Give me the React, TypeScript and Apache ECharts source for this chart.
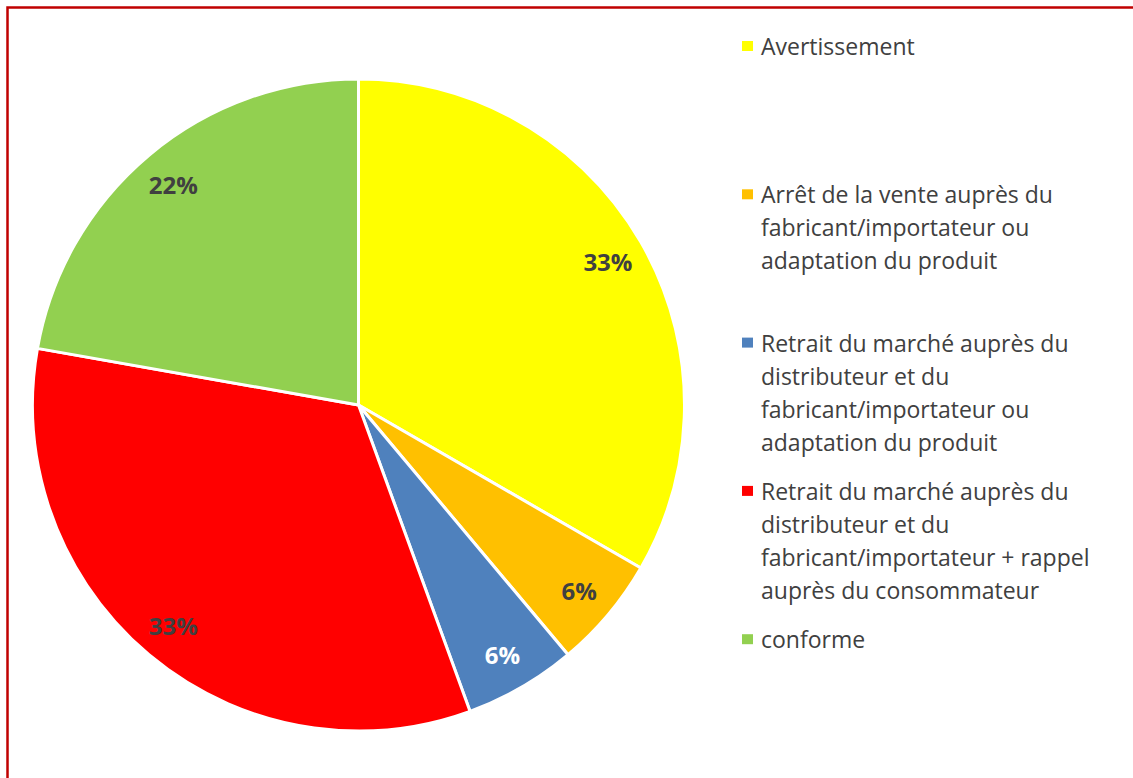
import React, { useEffect, useRef } from "react";
import * as echarts from "echarts";

const categories = [
  "Avertissement",
  "Arrêt de la vente auprès du\nfabricant/importateur ou\nadaptation du produit",
  "Retrait du marché auprès du\ndistributeur et du\nfabricant/importateur ou\nadaptation du produit",
  "Retrait du marché auprès du\ndistributeur et du\nfabricant/importateur + rappel\nauprès du consommateur",
  "conforme",
];
const counts = [6, 1, 1, 6, 4];
const colors = ["#FFFF00", "#FFC000", "#4F81BD", "#FF0000", "#92D050"];
const labelColors = ["#404040", "#404040", "#FFFFFF", "#404040", "#404040"];

const FONT = "'Open Sans', 'Noto Sans', sans-serif";

export default function App() {
  const ref = useRef<HTMLDivElement>(null);
  useEffect(() => {
    if (!ref.current) return;
    const chart = echarts.init(ref.current, undefined, { renderer: "svg" });
    const total = counts.reduce((a, b) => a + b, 0);
    const legendGraphics: any[] = [];
    const legendTop = 46;
    const legendStep = 148.3;
    categories.forEach((c, i) => {
      const y = legendTop + i * legendStep;
      legendGraphics.push({
        type: "rect",
        shape: { x: 742, y: y - 5, width: 11, height: 10 },
        style: { fill: colors[i] },
        silent: true,
      });
      legendGraphics.push({
        type: "text",
        x: 761,
        y: y - 16.5,
        style: {
          text: c,
          fill: "#404040",
          font: `23px ${FONT}`,
          lineHeight: 33,
          textVerticalAlign: "top",
        },
        silent: true,
      });
    });
    const data = categories.map((c, i) => ({
      name: c,
      value: counts[i],
      itemStyle: { color: colors[i] },
    }));
    chart.setOption({
      animation: false,
      backgroundColor: "#ffffff",
      graphic: [
        {
          type: "rect",
          shape: { x: 7.5, y: 7.5, width: 1300, height: 1000 },
          style: { fill: "none", stroke: "#C00000", lineWidth: 2.5 },
          silent: true,
        },
        ...legendGraphics,
      ],
      series: [
        {
          type: "pie",
          center: [358.5, 405],
          radius: [0, 326],
          startAngle: 90,
          clockwise: true,
          avoidLabelOverlap: false,
          itemStyle: { borderColor: "#ffffff", borderWidth: 3 },
          label: { show: false },
          labelLine: { show: false },
          data,
          silent: true,
        },
        {
          type: "pie",
          center: [358.5, 405],
          radius: [244, 326],
          startAngle: 90,
          clockwise: true,
          avoidLabelOverlap: false,
          itemStyle: { color: "transparent", borderWidth: 0 },
          label: {
            show: true,
            position: "inside",
            fontFamily: FONT,
            fontSize: 24,
            fontWeight: "bold",
            formatter: (p: any) => Math.round((p.value / total) * 100) + "%",
          },
          labelLine: { show: false },
          data: categories.map((c, i) => ({
            name: c,
            value: counts[i],
            itemStyle: { color: "transparent" },
            label: { color: labelColors[i] },
          })),
          silent: true,
        },
      ],
    });
    return () => chart.dispose();
  }, []);
  return (
    <div
      ref={ref}
      style={{ position: "absolute", left: 0, top: 0, width: 1133, height: 778 }}
    />
  );
}
